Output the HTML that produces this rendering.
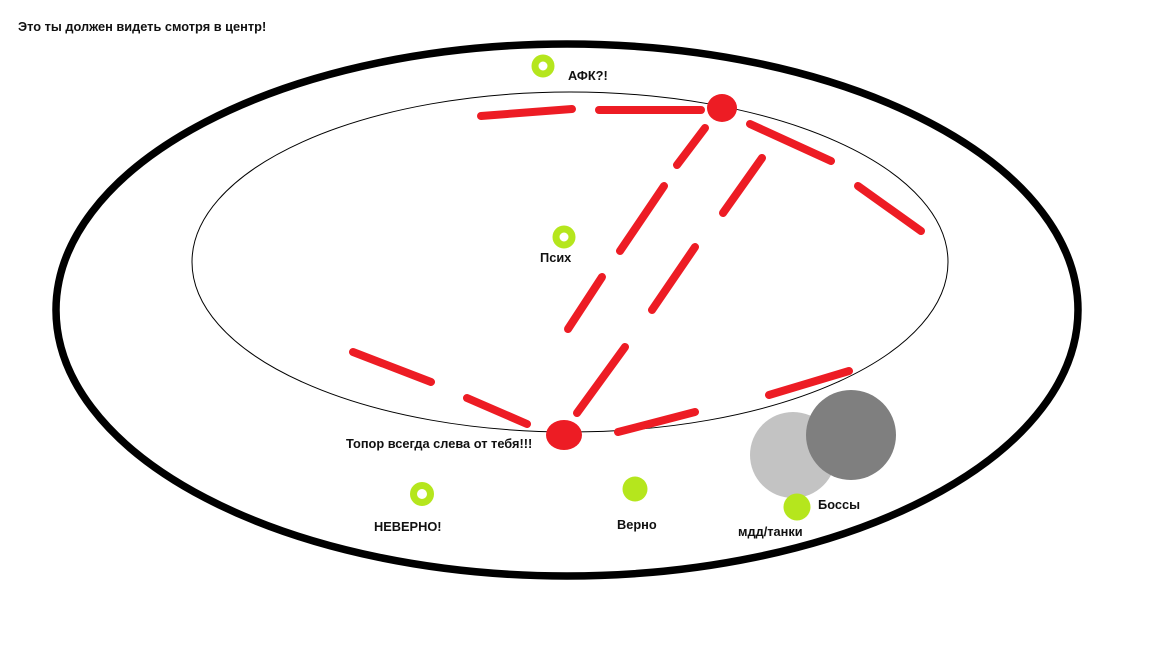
<!DOCTYPE html>
<html><head><meta charset="utf-8"><style>
html,body{margin:0;padding:0;background:#fff;width:1152px;height:648px;overflow:hidden}
text{font-family:"Liberation Sans","DejaVu Sans",sans-serif;font-weight:bold;font-size:12.8px;fill:#111}
</style></head><body>
<svg width="1152" height="648" viewBox="0 0 1152 648" xmlns="http://www.w3.org/2000/svg">
<ellipse cx="567" cy="310" rx="511" ry="266" fill="none" stroke="#000" stroke-width="7.5"/>
<ellipse cx="570" cy="262" rx="378" ry="170" fill="none" stroke="#000" stroke-width="1"/>
<g stroke="#ed1c24" stroke-width="8" stroke-linecap="round" fill="none">
<line x1="481" y1="116" x2="572" y2="109"/>
<line x1="599" y1="110" x2="701" y2="110"/>
<line x1="750" y1="124" x2="831" y2="161"/>
<line x1="858" y1="186" x2="921" y2="231"/>
<line x1="705" y1="128" x2="677" y2="165"/>
<line x1="664" y1="186" x2="620" y2="251"/>
<line x1="602" y1="277" x2="568" y2="329"/>
<line x1="762" y1="158" x2="723" y2="213"/>
<line x1="695" y1="247" x2="652" y2="310"/>
<line x1="625" y1="347" x2="577" y2="413"/>
<line x1="353" y1="352" x2="431" y2="382"/>
<line x1="467" y1="398" x2="527" y2="424"/>
<line x1="618" y1="432" x2="695" y2="412"/>
<line x1="769" y1="395" x2="849" y2="371"/>
</g>
<ellipse cx="722" cy="108" rx="15" ry="14" fill="#ed1c24"/>
<ellipse cx="564" cy="435" rx="18" ry="15" fill="#ed1c24"/>
<circle cx="793" cy="455" r="43" fill="#c3c3c3"/>
<circle cx="851" cy="435" r="45" fill="#7f7f7f"/>
<g fill="none" stroke="#b5e61d" stroke-width="7">
<circle cx="543" cy="66" r="8"/>
<circle cx="564" cy="237" r="8"/>
<circle cx="422" cy="494" r="8.5"/>
</g>
<circle cx="635" cy="489" r="12.5" fill="#b5e61d"/>
<circle cx="797" cy="507" r="13.5" fill="#b5e61d"/>
<text x="18" y="31">Это ты должен видеть смотря в центр!</text>
<text x="568" y="80">АФК?!</text>
<text x="540" y="262">Псих</text>
<text x="346" y="448">Топор всегда слева от тебя!!!</text>
<text x="374" y="531">НЕВЕРНО!</text>
<text x="617" y="529">Верно</text>
<text x="818" y="509">Боссы</text>
<text x="738" y="536">мдд/танки</text>
</svg>
</body></html>
